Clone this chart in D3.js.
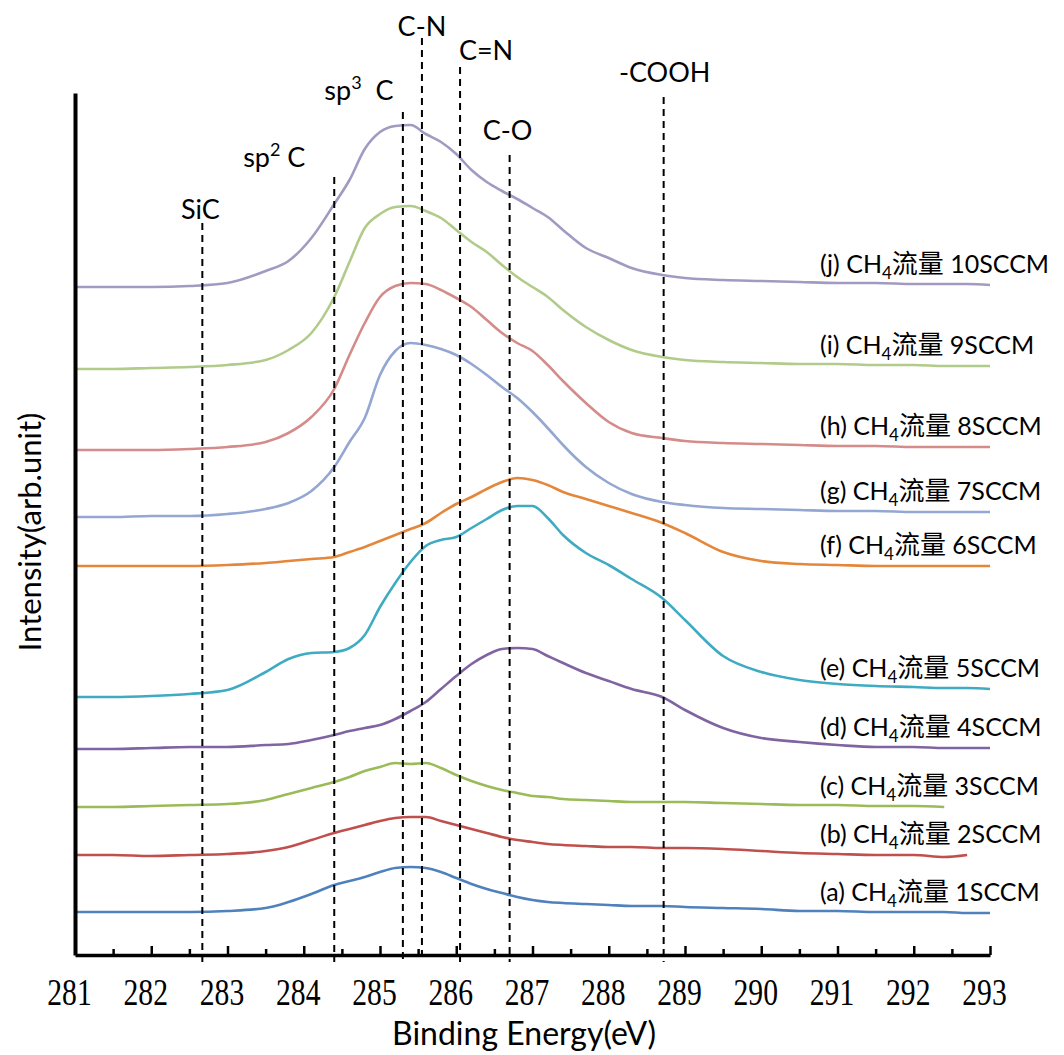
<!DOCTYPE html>
<html>
<head>
<meta charset="utf-8">
<script src="https://cdn.jsdelivr.net/npm/d3@7"></script>
<style>
  html, body { margin: 0; padding: 0; background: #ffffff; }
  svg { display: block; }
  .sans { font-family: Lato, "Noto Sans CJK SC", sans-serif; }
</style>
</head>
<body>
<svg id="chart" width="1064" height="1055"></svg>
<script>
// Binding energy sample points (eV)
const energy = [281, 281.5, 282, 282.5, 283, 283.5, 283.8, 284.1, 284.4, 284.6, 284.8, 285.0, 285.2,
  285.4, 285.6, 285.8, 286.0, 286.2, 286.4, 286.6, 286.8, 287.0, 287.2, 287.4, 287.7, 288.0, 288.3,
  288.7, 289.0, 289.5, 290, 290.5, 291, 291.5, 292, 292.4, 292.7, 293];

// C1s intensity (arb. unit, stacked with offsets) for each CH4 flow rate
const intensityA = [43,43,43,43,44,47,53,61,70,74,78,83,87,88,87,83,77,71,66,62,58,55,53,52,51,50,49,49,48,47,46,44,44,43,43,43,42,42];
const intensityB = [100,100,99,100,101,104,108,115,122,126,130,134,137,138,138,134,130,126,122,118,115,113,111,110,109,108,108,107,107,106,104,102,101,100,100,98,100,null];
const intensityC = [148,148,149,150,151,155,161,167,173,178,184,188,192,191,192,187,180,174,169,165,162,159,158,156,155,154,153,153,153,152,151,150,150,149,149,148,null,null];
const intensityD = [206,206,207,208,208,210,211,215,220,224,227,230,236,244,253,266,279,291,300,306,307,306,299,292,282,274,266,258,245,227,217,213,210,208,208,207,207,207];
const intensityE = [258,258,259,261,265,283,296,302,303,307,320,348,372,393,409,415,418,427,436,445,449,449,437,420,402,390,376,357,335,299,283,275,271,269,268,267,267,266];
const intensityF = [389,389,389,389,390,392,394,396,398,403,408,414,420,426,432,442,451,458,466,473,477,475,470,463,456,449,442,432,422,403,394,391,390,389,389,389,389,389];
const intensityG = [438,438,439,439,441,446,452,464,488,513,537,580,604,612,610,606,600,591,580,568,557,543,527,510,488,472,461,453,450,447,446,445,444,444,443,443,443,443];
const intensityH = [505,505,505,506,508,513,522,538,566,600,632,658,669,672,671,665,657,648,635,622,612,604,590,574,552,533,522,517,514,512,511,510,509,509,508,508,508,508];
const intensityI = [586,586,587,588,590,595,605,622,658,693,727,741,748,749,744,737,725,713,703,690,678,668,658,645,628,615,605,598,595,593,592,591,591,590,590,589,589,589];
const intensityJ = [668,668,668,669,672,684,694,717,751,775,806,823,829,830,821,813,801,785,773,764,756,747,738,725,707,697,687,680,677,675,674,673,672,672,671,671,671,670];

const seriesKeys = ["a", "b", "c", "d", "e", "f", "g", "h", "i", "j"];
const flowRates = [1, 2, 3, 4, 5, 6, 7, 8, 9, 10];
const allIntensities = [intensityA, intensityB, intensityC, intensityD, intensityE,
  intensityF, intensityG, intensityH, intensityI, intensityJ];

// Reference binding energies of the C1s components
const peakNames = ["SiC", "sp2 C", "sp3 C", "C-N", "C=N", "C-O", "-COOH"];
const peakEnergy = [282.67, 284.4, 285.3, 285.55, 286.05, 286.7, 288.72];
const peakTop = [732, 778, 843, 917, 888, 800, 858];

const xTicks = [281, 282, 283, 284, 285, 286, 287, 288, 289, 290, 291, 292, 293];
const xMinorTicks = d3.range(281.5, 293, 1);

const lineColors = ["#4f81bd", "#c0504d", "#9bbb59", "#8064a2", "#3fabc3",
  "#e4873a", "#93a7d2", "#d48c8a", "#b1cb8a", "#a29ac0"];

const svg = d3.select("#chart");
const x = d3.scaleLinear().domain([281, 293]).range([75, 990]);
const y = d3.scaleLinear().domain([0, 862]).range([955, 93]);

// Series lines
const series = seriesKeys.map((k, i) => ({
  key: k, flow: flowRates[i], color: lineColors[i],
  points: energy.map((e, j) => [e, allIntensities[i][j]])
}));

const line = d3.line()
  .defined(d => d[1] != null)
  .x(d => x(d[0]))
  .y(d => y(d[1]))
  .curve(d3.curveMonotoneX);

svg.append("g").selectAll("path")
  .data(series)
  .join("path")
  .attr("d", d => line(d.points))
  .attr("fill", "none")
  .attr("stroke", d => d.color)
  .attr("stroke-width", 2.6)
  .attr("stroke-linejoin", "round");

// Dashed reference lines
svg.append("g").selectAll("line")
  .data(peakEnergy.map((e, i) => ({ e, top: peakTop[i] })))
  .join("line")
  .attr("x1", d => x(d.e)).attr("x2", d => x(d.e))
  .attr("y1", d => y(d.top)).attr("y2", y(-7))
  .attr("stroke", "#000").attr("stroke-width", 2)
  .attr("stroke-dasharray", "7,5");

// Axes
const minorAxis = d3.axisBottom(x).tickValues(xMinorTicks).tickSize(-6).tickSizeOuter(0).tickFormat("");
const majorAxis = d3.axisBottom(x).tickValues(xTicks).tickSize(-9).tickSizeOuter(0).tickFormat(d3.format("d"));

const gMinor = svg.append("g").attr("transform", `translate(0,${y(0)})`).call(minorAxis);
gMinor.select(".domain").remove();
gMinor.selectAll(".tick line").attr("stroke", "#000").attr("stroke-width", 2.5);

const gMajor = svg.append("g").attr("transform", `translate(0,${y(0)})`).call(majorAxis);
gMajor.select(".domain").attr("stroke", "#000").attr("stroke-width", 3.5);
gMajor.selectAll(".tick line").attr("stroke", "#000").attr("stroke-width", 2.5);
gMajor.selectAll(".tick text")
  .attr("fill", "#000")
  .attr("font-family", "'Liberation Serif', 'Times New Roman', serif")
  .attr("font-size", 38)
  .attr("y", 50)
  .attr("dy", 0)
  .attr("transform", "translate(-6,0) scale(0.78,1)");

const yAxis = d3.axisLeft(y).tickValues([]).tickSizeOuter(0);
const gY = svg.append("g").attr("transform", `translate(${x(281)},0)`).call(yAxis);
gY.select(".domain").attr("stroke", "#000").attr("stroke-width", 4);

// Axis titles
svg.append("text").attr("class", "sans")
  .attr("x", 524).attr("y", 1045)
  .attr("text-anchor", "middle").attr("font-size", 32)
  .text("Binding Energy(eV)");

svg.append("text").attr("class", "sans")
  .attr("transform", "translate(41,532) rotate(-90)")
  .attr("text-anchor", "middle").attr("font-size", 31)
  .text("Intensity(arb.unit)");

// Component labels above the dashed lines
const peakLabelDx = [-2, -60, -44, 0, 26, -2, 1];
const peakLabelDy = [-4, -10, -12, -2, -7, -15, -15];
const peakGroup = svg.append("g").attr("class", "sans").attr("font-size", 27);
peakNames.forEach((name, i) => {
  const t = peakGroup.append("text")
    .attr("x", x(peakEnergy[i]) + peakLabelDx[i])
    .attr("y", y(peakTop[i]) + peakLabelDy[i])
    .attr("text-anchor", "middle");
  const m = name.match(/^sp(\d) (C)$/);
  if (m) {
    t.append("tspan").text("sp");
    t.append("tspan").attr("dy", -11).attr("font-size", 18).text(m[1]);
    t.append("tspan").attr("dy", 11).text(m[1] === "3" ? "\u00a0 C" : " C");
  } else {
    t.text(name);
  }
});

// Series labels at the right
const labelGroup = svg.append("g").attr("class", "sans").attr("font-size", 25).attr("fill", "#000");
series.forEach(s => {
  const last = s.points.filter(p => p[1] != null).slice(-1)[0];
  const t = labelGroup.append("text")
    .attr("x", 820)
    .attr("y", y(last[1]) - 12);
  t.append("tspan").text(`(${s.key}) CH`);
  t.append("tspan").attr("dy", 6).attr("font-size", 17).text("4");
  t.append("tspan").attr("dy", -6).attr("font-size", 26).text("流量");
  t.append("tspan").text(` ${s.flow}SCCM`);
});
</script>
</body>
</html>
